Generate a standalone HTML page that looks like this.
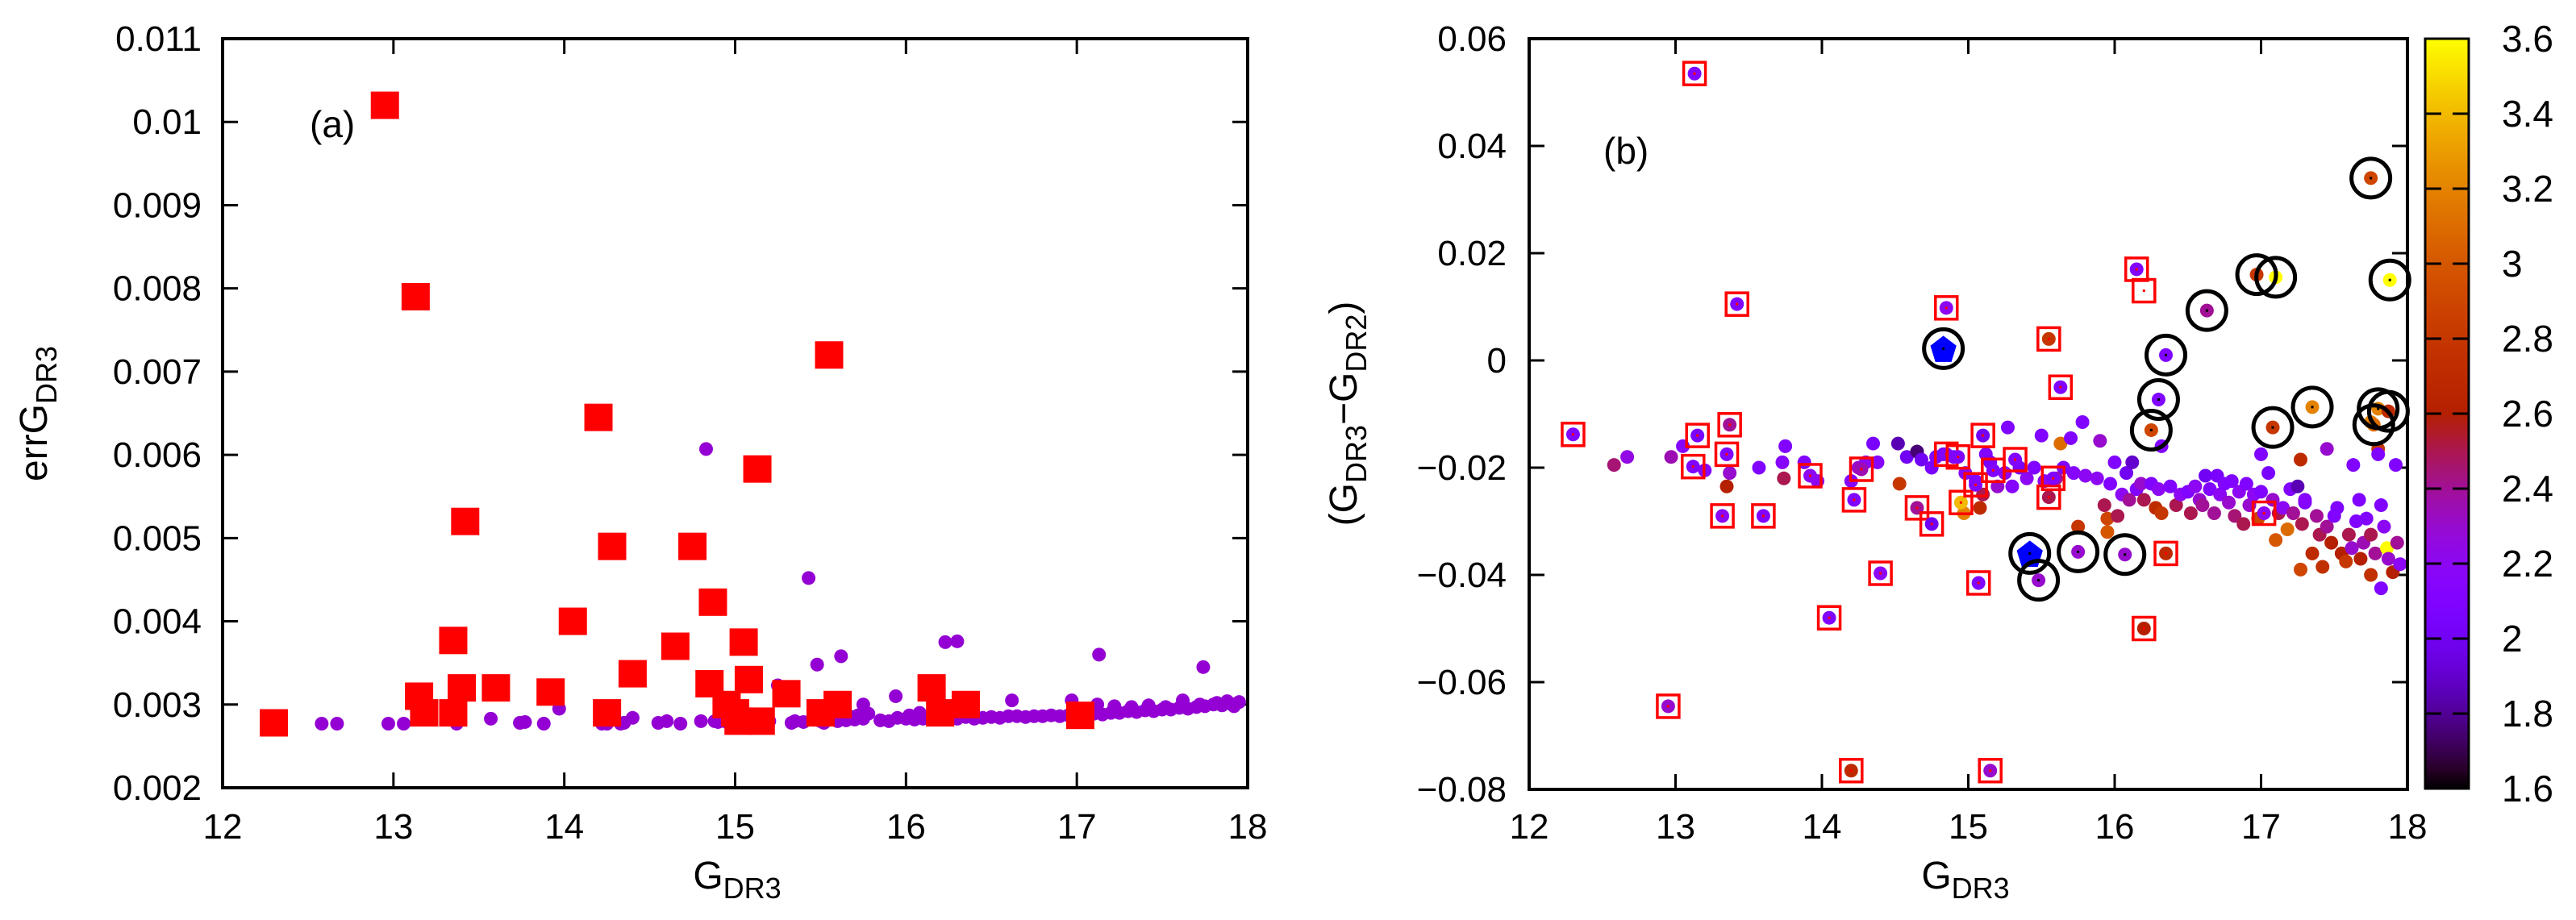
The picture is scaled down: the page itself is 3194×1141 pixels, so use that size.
<!DOCTYPE html>
<html><head><meta charset="utf-8"><style>
html,body{margin:0;padding:0;background:#fff;}
svg{display:block;font-family:"Liberation Sans",sans-serif;}
</style></head><body>
<svg id="fig" width="3194" height="1141" viewBox="0 0 3194 1141" xmlns="http://www.w3.org/2000/svg">
<defs><linearGradient id="cbgrad" x1="0" y1="1" x2="0" y2="0"></linearGradient></defs>
<g id="panelA"></g>
<g id="panelB"></g>
</svg>
<script>
// ---------- Panel (a) data ----------
const aSqX=[12.3,12.95,13.13,13.15,13.18,13.35,13.4,13.35,13.42,13.6,13.92,14.05,14.2,14.25,14.28,14.4,14.65,14.75,14.85,14.87,14.95,15.0,15.02,15.05,15.08,15.15,15.13,15.3,15.5,15.55,15.6,16.15,16.2,16.35,17.02];
const aSqY=[0.00278,0.0102,0.0079,0.0031,0.0029,0.00377,0.0032,0.0029,0.0052,0.0032,0.00315,0.0040,0.00645,0.0029,0.0049,0.00337,0.0037,0.0049,0.00325,0.00423,0.0030,0.0029,0.0028,0.00375,0.0033,0.0028,0.00583,0.00313,0.0029,0.0072,0.0030,0.0032,0.0029,0.0030,0.00287];
const aDotX=[12.58,12.67,12.97,13.06,13.37,13.57,13.74,13.77,13.88,13.97,14.22,14.33,14.4,14.55,14.6,14.68,14.8,14.83,14.88,15.25,15.33,15.43,15.48,15.62,15.75,15.94,16.23,16.3,16.62,16.97,17.13,17.74,
15.5,15.55,15.6,15.62,15.65,15.68,15.7,15.72,15.75,15.78,15.85,15.9,15.95,16.0,16.02,16.05,16.08,16.1,16.15,16.2,16.25,16.3,16.35,16.4,16.45,16.5,16.55,16.6,16.65,16.7,16.75,16.8,16.85,16.9,16.95,17.0,17.05,17.1,17.12,17.15,17.2,17.22,17.25,17.3,17.32,17.35,17.4,17.42,17.45,17.5,17.52,17.55,17.6,17.62,17.65,17.7,17.72,17.75,17.8,17.82,17.85,17.88,17.9,17.92,17.95,15.05,15.1,15.15,15.2,14.95,15.52,14.25,14.35,14.9,15.0,15.35,15.4];
const aDotY=[0.00277,0.00277,0.00277,0.00277,0.00277,0.00283,0.00278,0.00279,0.00277,0.00295,0.00277,0.00277,0.00284,0.00278,0.0028,0.00277,0.0028,0.00607,0.0028,0.00323,0.00278,0.00452,0.00348,0.00358,0.0030,0.0031,0.00375,0.00376,0.00305,0.00305,0.0036,0.00345,
0.00280,0.00282,0.00280,0.00284,0.00281,0.00285,0.00282,0.00287,0.00283,0.00289,0.00281,0.00280,0.00284,0.00283,0.00287,0.00282,0.00290,0.00283,0.00283,0.00284,0.00285,0.00283,0.00285,0.00283,0.00284,0.00285,0.00284,0.00286,0.00286,0.00285,0.00286,0.00286,0.00287,0.00286,0.00287,0.00288,0.00287,0.00289,0.00300,0.00288,0.00290,0.00298,0.00290,0.00292,0.00297,0.00291,0.00293,0.00299,0.00292,0.00294,0.00297,0.00294,0.00296,0.00305,0.00295,0.00297,0.00300,0.00298,0.00300,0.00302,0.00299,0.00304,0.00301,0.00298,0.00303,0.00279,0.00280,0.00278,0.00280,0.00279,0.00278,0.00277,0.00278,0.00279,0.00278,0.00280,0.00279];
const aXTicks=["12","13","14","15","16","17","18"];
const aYTicks=["0.002","0.003","0.004","0.005","0.006","0.007","0.008","0.009","0.01","0.011"];

// ---------- Panel (b) data ----------
const bgX=[12.58,12.67,12.97,13.05,13.2,13.35,13.37,13.57,13.73,13.75,13.74,13.88,13.97,14.2,14.25,14.3,14.35,14.38,14.52,14.53,14.58,14.65,14.68,14.75,14.78,14.83,14.9,14.97,14.98,15.05,15.08,15.1,15.12,15.15,15.2,15.27,15.25,15.3,15.35,15.4,15.45,15.5,15.52,15.6,15.63,15.65,15.7,15.72,15.78,15.8,15.75,15.88,15.9,15.93,15.95,15.95,15.97,16.0,16.02,16.05,16.08,16.1,16.12,16.15,16.18,16.2,16.25,16.28,16.3,16.32,16.32,16.38,16.42,16.45,16.5,16.52,16.55,16.58,16.6,16.62,16.65,16.68,16.7,16.72,16.75,16.78,16.8,16.82,16.85,16.88,16.9,16.92,16.95,16.98,17.0,17.0,17.05,17.08,17.1,17.12,17.15,17.18,17.2,17.22,17.25,17.27,17.28,17.3,17.27,17.35,17.38,17.4,17.42,17.45,17.45,17.48,17.5,17.52,17.55,17.58,17.6,17.62,17.63,17.65,17.67,17.68,17.7,17.72,17.75,17.75,17.78,17.8,17.8,17.82,17.82,17.84,17.86,17.87,17.9,17.92,17.93,17.95,17.75,17.3];
const bgY=[-0.0195,-0.018,-0.018,-0.016,-0.0205,-0.0235,-0.021,-0.02,-0.019,-0.016,-0.022,-0.019,-0.0225,-0.0225,-0.02,-0.019,-0.0155,-0.019,-0.0155,-0.023,-0.018,-0.017,-0.0185,-0.02,-0.018,-0.0175,-0.018,-0.0285,-0.021,-0.0225,-0.0275,-0.025,-0.0175,-0.019,-0.0235,-0.0125,-0.021,-0.0235,-0.02,-0.022,-0.02,-0.014,-0.0225,-0.022,-0.0155,-0.02,-0.0145,-0.021,-0.0115,-0.0215,-0.031,-0.022,-0.015,-0.027,-0.0295,-0.032,-0.023,-0.019,-0.029,-0.025,-0.021,-0.026,-0.019,-0.024,-0.023,-0.026,-0.023,-0.0275,-0.024,-0.016,-0.0285,-0.0235,-0.027,-0.025,-0.0245,-0.0285,-0.0235,-0.026,-0.027,-0.0215,-0.024,-0.0285,-0.0215,-0.025,-0.023,-0.0265,-0.0225,-0.029,-0.0245,-0.0305,-0.023,-0.027,-0.025,-0.0295,-0.0175,-0.0245,-0.021,-0.026,-0.0335,-0.0285,-0.0275,-0.0315,-0.024,-0.0285,-0.0235,-0.0185,-0.0305,-0.0265,-0.039,-0.036,-0.029,-0.0325,-0.0385,-0.0165,-0.031,-0.034,-0.029,-0.0275,-0.036,-0.0375,-0.0325,-0.035,-0.0195,-0.03,-0.026,-0.037,-0.034,-0.0295,-0.0325,-0.04,-0.036,-0.0165,-0.0175,-0.027,-0.0425,-0.031,-0.035,-0.037,-0.0395,-0.0195,-0.034,-0.038,-0.0115,-0.026];
const bgC=[2.45,2.25,2.35,2.15,2.15,2.6,2.3,2.1,2.15,2.1,2.5,2.1,2.2,2.15,2.3,2.2,2.05,2.15,1.85,2.8,2.0,1.75,2.0,2.05,2.1,2.05,2.1,3.2,2.15,2.1,2.7,2.5,2.1,2.05,2.3,2.1,2.2,2.15,2.05,2.2,2.1,2.1,2.2,2.4,3.1,2.1,2.1,2.15,2.1,2.2,2.8,2.2,2.3,2.5,2.9,3.0,2.1,2.1,2.5,2.2,2.0,2.4,1.9,2.1,2.3,2.5,2.1,2.7,2.2,2.1,2.8,2.1,2.5,2.2,2.1,2.5,2.2,2.3,2.4,2.0,2.1,2.4,2.05,2.2,2.1,2.3,2.1,2.45,2.2,2.5,2.1,2.3,2.2,2.9,2.1,2.1,2.05,2.3,3.0,2.5,2.2,3.1,2.1,2.4,1.85,2.7,2.5,2.1,2.9,2.7,2.4,2.5,2.75,2.3,2.4,2.6,2.1,2.1,2.6,2.8,2.5,2.3,2.1,2.1,2.1,2.6,2.35,2.1,2.5,2.75,2.4,2.8,2.1,2.1,2.1,2.2,3.6,2.3,2.6,2.1,2.4,2.2,3.2,2.15];
const boxX=[13.13,12.3,13.15,13.12,13.37,13.35,13.42,13.32,13.6,12.95,13.92,14.05,14.22,14.27,14.2,14.4,14.65,14.75,14.85,14.85,14.95,14.93,15.05,15.1,15.07,15.17,15.32,15.15,15.55,15.55,15.58,15.63,16.15,16.2,16.2,16.35,17.02];
const boxY=[0.0535,-0.0138,-0.014,-0.0198,-0.012,-0.0175,0.0105,-0.029,-0.029,-0.0645,-0.0215,-0.048,-0.026,-0.0203,-0.0765,-0.0397,-0.0275,-0.0305,0.0098,-0.0175,-0.0265,-0.018,-0.0232,-0.014,-0.0415,-0.0205,-0.0185,-0.0765,0.004,-0.0255,-0.022,-0.005,0.017,0.013,-0.05,-0.036,-0.0285];
const boxC=[2.1,2.1,2.05,2.1,2.4,2.1,2.1,2.2,2.1,2.3,2.2,2.1,2.1,2.35,2.7,2.2,2.4,2.0,2.2,2.1,3.4,2.1,2.1,2.0,2.1,2.1,2.1,2.3,2.8,2.5,2.1,2.1,2.1,0,2.6,2.7,2.2];
const cirX=[15.48,15.75,16.07,16.25,16.3,16.35,16.63,16.97,17.1,17.08,17.35,17.75,17.88,17.77,17.8,17.87];
const cirY=[-0.041,-0.0357,-0.0362,-0.013,-0.0073,0.001,0.0093,0.016,0.0155,-0.0125,-0.0087,0.034,0.015,-0.012,-0.009,-0.0095];
const cirC=[2.3,2.3,2.3,2.9,2.1,2.1,2.4,2.8,3.6,2.8,3.2,2.9,3.6,3.1,3.2,2.7];
const pentX=[14.83,15.42];
const pentY=[0.0022,-0.036];
const bXTicks=["12","13","14","15","16","17","18"];
const bYTicks=["−0.08","−0.06","−0.04","−0.02","0","0.02","0.04","0.06"];
const cbTicks=["1.6","1.8","2","2.2","2.4","2.6","2.8","3","3.2","3.4","3.6"];

const NS="http://www.w3.org/2000/svg";
function mk(parent,tag,attrs){const e=document.createElementNS(NS,tag);for(const k in attrs)e.setAttribute(k,attrs[k]);parent.appendChild(e);return e;}
function pal(v){let t=(v-1.6)/2.0;t=Math.max(0,Math.min(1,t));const r=Math.sqrt(t),g=t*t*t,b=Math.max(0,Math.sin(2*Math.PI*t));return `rgb(${Math.round(r*255)},${Math.round(g*255)},${Math.round(b*255)})`;}

const A={l:276,r:1547,t:48,b:977,x0:12,x1:18,y0:0.002,y1:0.011};
const B={l:1896,r:2985,t:48,b:979,x0:12,x1:18,y0:-0.08,y1:0.06};
const sx=(P,v)=>P.l+(v-P.x0)/(P.x1-P.x0)*(P.r-P.l);
const sy=(P,v)=>P.b-(v-P.y0)/(P.y1-P.y0)*(P.b-P.t);

function axes(g,P,xt,yt,ylabX){
  for(let i=0;i<xt.length;i++){
    const v=P.x0+i*(P.x1-P.x0)/(xt.length-1),x=sx(P,v);
    const t1=mk(g,'line',{x1:x,y1:P.b,x2:x,y2:P.b-19,stroke:'#000','stroke-width':3});
    
    mk(g,'line',{x1:x,y1:P.t,x2:x,y2:P.t+19,stroke:'#000','stroke-width':3});
    const tx=mk(g,'text',{x:x,y:1040,'font-size':44,'text-anchor':'middle'});tx.textContent=xt[i];
    
  }
  for(let i=0;i<yt.length;i++){
    const v=P.y0+i*(P.y1-P.y0)/(yt.length-1),y=sy(P,v);
    const t1=mk(g,'line',{x1:P.l,y1:y,x2:P.l+19,y2:y,stroke:'#000','stroke-width':3});
    
    mk(g,'line',{x1:P.r,y1:y,x2:P.r-19,y2:y,stroke:'#000','stroke-width':3});
    const tx=mk(g,'text',{x:ylabX,y:y+15,'font-size':44,'text-anchor':'end'});tx.textContent=yt[i];
    
  }
}
function frame(g,P){const f=mk(g,'rect',{x:P.l,y:P.t,width:P.r-P.l,height:P.b-P.t,fill:'none',stroke:'#000','stroke-width':4});
  }

// ---- Panel A ----
const ga=document.getElementById('panelA');
axes(ga,A,aXTicks,aYTicks,250);
for(let i=0;i<aDotX.length;i++){
  const c=mk(ga,'ellipse',{cx:sx(A,aDotX[i]),cy:sy(A,aDotY[i]),rx:8.5,ry:8.5,fill:'#9400d3'});
  
}
for(let i=0;i<aSqX.length;i++){
  const s=mk(ga,'rect',{x:sx(A,aSqX[i])-17.5,y:sy(A,aSqY[i])-17,width:35,height:34,fill:'#ff0000'});
  
}
frame(ga,A);
{const t=mk(ga,'text',{x:384,y:170,'font-size':46});t.textContent='(a)';}
{const t=mk(ga,'text',{x:0,y:0,'font-size':48,'text-anchor':'middle',transform:'translate(58,513) rotate(-90)'});
 t.innerHTML='errG<tspan font-size="36" dy="12">DR3</tspan>';}
{const t=mk(ga,'text',{x:914,y:1102,'font-size':48,'text-anchor':'middle'});
 t.innerHTML='G<tspan font-size="36" dy="12">DR3</tspan>';}

// ---- Panel B ----
const gb=document.getElementById('panelB');
axes(gb,B,bXTicks,bYTicks,1868);
for(let i=0;i<bgX.length;i++){
  const c=mk(gb,'ellipse',{cx:sx(B,bgX[i]),cy:sy(B,bgY[i]),rx:8.5,ry:8.5,fill:pal(bgC[i])});
  
}
for(let i=0;i<boxX.length;i++){
  const x=sx(B,boxX[i]),y=sy(B,boxY[i]);
  if(boxC[i]>0){const c=mk(gb,'ellipse',{cx:x,cy:y,rx:8.5,ry:8.5,fill:pal(boxC[i])});
    }
  mk(gb,'rect',{x:x-1.5,y:y-1.5,width:3,height:3,fill:'#ff0000'});
  const s=mk(gb,'rect',{x:x-13.5,y:y-14,width:27,height:28,fill:'none',stroke:'#ff0000','stroke-width':3.5});
  
}
for(let i=0;i<cirX.length;i++){
  const x=sx(B,cirX[i]),y=sy(B,cirY[i]);
  const c=mk(gb,'ellipse',{cx:x,cy:y,rx:8.5,ry:8.5,fill:pal(cirC[i])});
  
  mk(gb,'rect',{x:x-1.5,y:y-1.5,width:3,height:3,fill:'#000'});
}
for(let i=0;i<pentX.length;i++){
  const x=sx(B,pentX[i]),y=sy(B,pentY[i]);let pts=[];
  for(let k=0;k<5;k++){const a=-Math.PI/2+k*2*Math.PI/5;pts.push((x+17*Math.cos(a)).toFixed(1)+','+(y+18*Math.sin(a)+2).toFixed(1));}
  const p=mk(gb,'polygon',{points:pts.join(' '),fill:'#0000ff'});
  
  mk(gb,'rect',{x:x-1.5,y:y-1.5,width:3,height:3,fill:'#000'});
}
const allCX=cirX.concat(pentX),allCY=cirY.concat(pentY);
for(let i=0;i<allCX.length;i++){
  const c=mk(gb,'circle',{cx:sx(B,allCX[i]),cy:sy(B,allCY[i]),r:24,fill:'none',stroke:'#000','stroke-width':5});
  
}
frame(gb,B);
{const t=mk(gb,'text',{x:1988,y:203,'font-size':46});t.textContent='(b)';}
{const t=mk(gb,'text',{x:0,y:0,'font-size':48,'text-anchor':'middle',transform:'translate(1682,513) rotate(-90)'});
 t.innerHTML='(G<tspan font-size="36" dy="12">DR3</tspan><tspan dy="-12">−G</tspan><tspan font-size="36" dy="12">DR2</tspan><tspan dy="-12">)</tspan>';
 }
{const t=mk(gb,'text',{x:2437,y:1102,'font-size':48,'text-anchor':'middle'});
 t.innerHTML='G<tspan font-size="36" dy="12">DR3</tspan>';}

// colorbar
const grad=document.getElementById('cbgrad');
for(let k=0;k<=40;k++){const v=1.6+k*0.05;mk(grad,'stop',{offset:(k/40),'stop-color':pal(v)});}
const CB={l:3007,r:3061,t:48,b:978};
{const r=mk(gb,'rect',{x:CB.l,y:CB.t,width:CB.r-CB.l,height:CB.b-CB.t,fill:'url(#cbgrad)',stroke:'#000','stroke-width':3});
 }
for(let i=0;i<cbTicks.length;i++){
  const y=CB.b-i*(CB.b-CB.t)/(cbTicks.length-1);
  if(i>0&&i<cbTicks.length-1){
    mk(gb,'line',{x1:CB.l,y1:y,x2:CB.l+20,y2:y,stroke:'#000','stroke-width':3});
    mk(gb,'line',{x1:CB.r,y1:y,x2:CB.r-20,y2:y,stroke:'#000','stroke-width':3});
  }
  const t=mk(gb,'text',{x:3102,y:y+16,'font-size':46});t.textContent=cbTicks[i];
  
}
</script>
</body></html>
